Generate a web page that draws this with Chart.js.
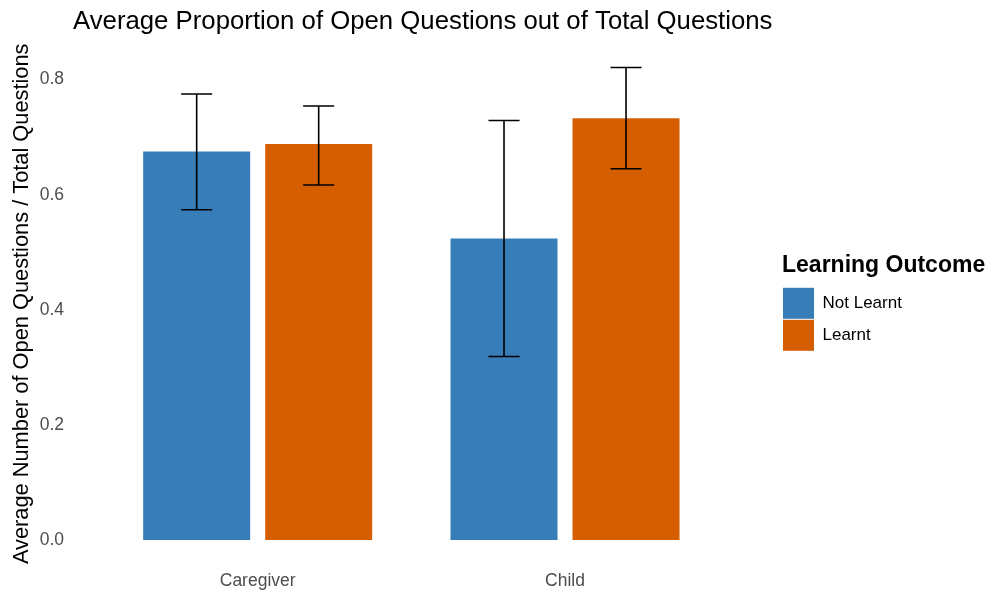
<!DOCTYPE html>
<html lang="en">
<head>
  <meta charset="UTF-8" />
  <title>Average Proportion of Open Questions</title>
  <script src="https://cdn.jsdelivr.net/npm/chart.js"></script>
  <style>
    body {
      margin: 0;
      background: #fff;
    }
    canvas {
      display: block;
    }
  </style>
</head>
<body>
  <canvas id="grafico" width="995" height="596"></canvas>

  <script>
    // Dados
    const categories = ['Caregiver', 'Child'];
    const seriesNames = ['Not Learnt', 'Learnt'];
    const notLearnt = [0.675, 0.524];
    const learnt = [0.688, 0.733];
    const notLearntLow = [0.574, 0.319];
    const notLearntHigh = [0.775, 0.729];
    const learntLow = [0.617, 0.645];
    const learntHigh = [0.754, 0.821];
    const yTicks = [0, 0.2, 0.4, 0.6, 0.8];

    Chart.defaults.font.family = "'Liberation Sans', Arial, sans-serif";

    // barras de erro desenhadas a partir da escala y
    const errorBars = {
      id: 'errorBars',
      afterDatasetsDraw(chart) {
        const ctx = chart.ctx;
        const y = chart.scales.y;
        ctx.save();
        ctx.strokeStyle = '#000';
        ctx.lineWidth = 1.6;
        chart.data.datasets.forEach((ds, i) => {
          chart.getDatasetMeta(i).data.forEach((bar, j) => {
            const top = y.getPixelForValue(ds.errHigh[j]);
            const bottom = y.getPixelForValue(ds.errLow[j]);
            const half = bar.width * 0.145;
            ctx.beginPath();
            ctx.moveTo(bar.x, top);
            ctx.lineTo(bar.x, bottom);
            ctx.moveTo(bar.x - half, top);
            ctx.lineTo(bar.x + half, top);
            ctx.moveTo(bar.x - half, bottom);
            ctx.lineTo(bar.x + half, bottom);
            ctx.stroke();
          });
        });
        ctx.restore();
      }
    };

    // titulo alinhado ao painel, legenda deslocada para a direita
    const placeBoxes = {
      id: 'placeBoxes',
      afterLayout(chart) {
        chart.titleBlock.left = 73;
        const lg = chart.legend;
        lg.left = 782;
        lg.right = chart.width;
        lg.width = lg.right - lg.left;
        lg.top += 5;
        lg.bottom += 5;
      }
    };

    const ctx = document.getElementById('grafico').getContext('2d');
    new Chart(ctx, {
      type: 'bar',
      data: {
        labels: categories,
        datasets: [
          {
            label: seriesNames[0],
            data: notLearnt,
            errLow: notLearntLow,
            errHigh: notLearntHigh,
            backgroundColor: '#377EB8',
            borderWidth: 0,
            categoryPercentage: 0.794,
            barPercentage: 0.877
          },
          {
            label: seriesNames[1],
            data: learnt,
            errLow: learntLow,
            errHigh: learntHigh,
            backgroundColor: '#D55E00',
            borderWidth: 0,
            categoryPercentage: 0.794,
            barPercentage: 0.877
          }
        ]
      },
      options: {
        responsive: false,
        animation: false,
        layout: {
          padding: { left: 0, right: 156.3, top: 0, bottom: 0 }
        },
        scales: {
          x: {
            afterFit: scale => {
              scale.height = 32.3;
            },
            grid: { display: false, drawTicks: false },
            border: { display: false },
            ticks: {
              padding: 7,
              color: '#4d4d4d',
              font: { size: 17.5 }
            }
          },
          y: {
            min: -0.041,
            max: 0.862,
            afterBuildTicks: scale => {
              scale.ticks = yTicks.map(v => ({ value: v }));
            },
            afterFit: scale => {
              scale.width = 104;
              scale.paddingTop = 10;
              scale.paddingBottom = 10;
            },
            grid: { display: false, drawTicks: false },
            border: { display: false },
            ticks: {
              padding: 40,
              color: '#4d4d4d',
              font: { size: 17.5 },
              callback: v => Number(v).toFixed(1)
            },
            title: {
              display: true,
              text: 'Average Number of Open Questions / Total Questions',
              color: '#000',
              font: { size: 21.8 },
              padding: { top: 9, bottom: 0 }
            }
          }
        },
        plugins: {
          title: {
            display: true,
            text: 'Average Proportion of Open Questions out of Total Questions',
            align: 'start',
            color: '#000',
            font: { size: 25.75, weight: 'normal' },
            padding: { top: 6, bottom: 7 }
          },
          legend: {
            position: 'right',
            align: 'center',
            maxWidth: 120,
            title: {
              display: true,
              text: 'Learning Outcome',
              position: 'start',
              color: '#000',
              font: { size: 23, weight: 'bold' },
              padding: { top: 0, bottom: 5 }
            },
            labels: {
              boxWidth: 31,
              boxHeight: 31,
              padding: 1,
              color: '#000',
              font: { size: 17 }
            }
          },
          tooltip: { enabled: false }
        }
      },
      plugins: [errorBars, placeBoxes]
    });
  </script>
</body>
</html>
